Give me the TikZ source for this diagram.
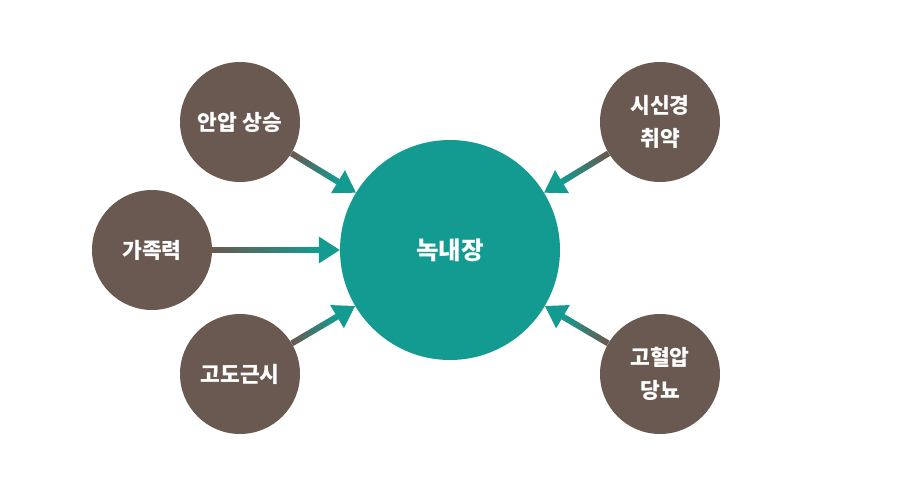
\documentclass[tikz,border=0pt]{standalone}
\usepackage{fontspec}
\newfontfamily\krfont{Noto Sans CJK KR}
\usepackage{xcolor}
\usetikzlibrary{calc}
\definecolor{brownc}{RGB}{106,89,80}
\definecolor{tealc}{RGB}{19,154,145}
\tikzset{
	cause/.style={
			circle, fill=brownc, minimum size=120pt, inner sep=0pt,
			text=white, align=center, font=\krfont\bfseries\fontsize{21.5}{33}\selectfont
		},
	glaucoma/.style={
			circle, fill=tealc, minimum size=220pt, inner sep=0pt,
			text=white, font=\krfont\bfseries\fontsize{24.5}{28}\selectfont
		},
	shaft/.style={line width=6pt, line cap=butt}
}
% shaded arrow from a cause to the centre circle
\newcommand{\riskarrow}[2]{%
	\path (#1) -- (#2) coordinate[pos=0] (#1-s) coordinate[pos=1] (#1-e);
	\coordinate (#1-h) at ($(#1-e)!21pt!(#1-s)$);
	\foreach \k in {0,...,29}{
			\pgfmathsetmacro\pc{100-100*\k/29}
			\draw[shaft, draw=brownc!\pc!tealc] ($(#1-s)!\k/30!(#1-h)$) -- ($(#1-s)!{(\k+1.3)/30}!(#1-h)$);
		}
	\fill[tealc] (#1-e) -- ($(#1-h)!13.5pt!90:(#1-e)$) -- ($(#1-h)!13.5pt!-90:(#1-e)$) -- cycle;
}

\begin{document}
\begin{tikzpicture}[x=1pt, y=-1pt]
		\useasboundingbox (0, 0) rectangle (900, 500);

		\node[glaucoma] (center) at (450, 250) {녹내장};

		\node[cause] (pressure) at (240, 122) {안압 상승};
		\node[cause] (family)   at (152, 250) {가족력};
		\node[cause] (myopia)   at (240, 374) {고도근시};
		\node[cause] (nerve)    at (660, 122) {시신경\\취약};
		\node[cause] (disease)  at (660, 374) {고혈압\\당뇨};

		\riskarrow{pressure}{center}
		\riskarrow{family}{center}
		\riskarrow{myopia}{center}
		\riskarrow{nerve}{center}
		\riskarrow{disease}{center}
	\end{tikzpicture}
\end{document}
